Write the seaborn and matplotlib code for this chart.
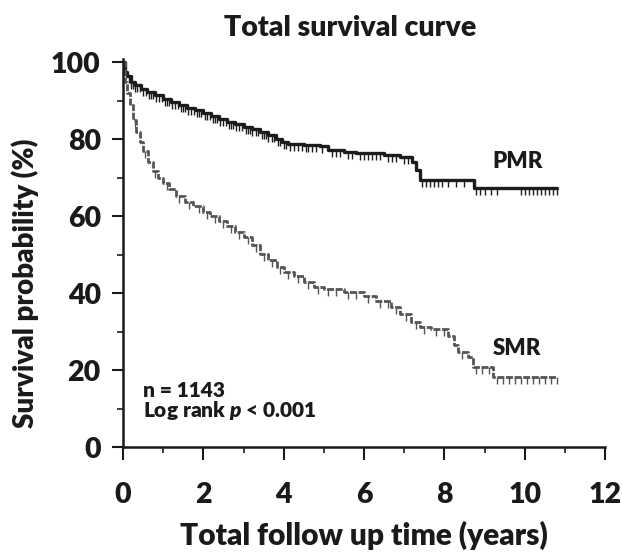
import numpy as np
import pandas as pd
import matplotlib
matplotlib.use("Agg")
import matplotlib.pyplot as plt
from matplotlib.ticker import MultipleLocator
import seaborn as sns

# ---------------- data ----------------
pmr_time = [0.0, 0.05, 0.1, 0.2, 0.3, 0.45, 0.6, 0.8, 1.0, 1.2, 1.4, 1.6, 1.8, 2.0,
            2.2, 2.4, 2.6, 2.8, 3.0, 3.2, 3.4, 3.6, 3.8, 3.95, 4.1, 4.5, 4.9, 5.1,
            5.5, 5.8, 6.5, 6.9, 7.2, 7.3, 7.4, 8.75, 10.8]
pmr_surv = [100.0, 97.5, 96.5, 95.0, 94.0, 93.0, 92.3, 91.5, 90.5, 89.6, 89.0, 88.2,
            87.6, 86.8, 86.0, 85.3, 84.6, 84.0, 83.3, 82.6, 81.8, 81.0, 80.0, 79.2,
            78.8, 78.5, 78.2, 77.3, 76.8, 76.4, 76.0, 75.5, 74.0, 72.0, 69.3, 67.3, 67.3]

smr_time = [0.0, 0.05, 0.1, 0.17, 0.25, 0.33, 0.42, 0.5, 0.62, 0.75, 0.88, 1.0, 1.15,
            1.33, 1.55, 1.75, 2.0, 2.17, 2.4, 2.58, 2.8, 3.0, 3.2, 3.42, 3.6, 3.83,
            4.0, 4.25, 4.5, 4.75, 5.0, 5.5, 6.0, 6.3, 6.67, 6.9, 7.17, 7.4, 7.67,
            8.1, 8.25, 8.35, 8.6, 8.72, 9.22, 10.8]
smr_surv = [100.0, 95.0, 92.0, 89.0, 85.0, 82.0, 79.3, 77.0, 74.0, 71.7, 70.0, 68.7,
            67.0, 65.2, 63.8, 62.6, 61.2, 60.1, 58.7, 57.5, 56.0, 54.5, 52.5, 50.1,
            48.5, 46.7, 45.5, 44.5, 43.0, 41.5, 41.0, 40.2, 39.3, 38.0, 36.4, 34.5,
            32.4, 31.2, 30.6, 28.9, 26.5, 24.7, 23.4, 20.8, 18.2, 18.2]

# censoring times (tick marks)
pmr_censor = [0.15, 0.2, 0.25, 0.3, 0.35, 0.42, 0.5, 0.58, 0.65, 0.7, 0.75, 0.82, 0.9,
              0.97, 1.05, 1.1, 1.15, 1.22, 1.3, 1.37, 1.45, 1.5, 1.55, 1.62, 1.7,
              1.77, 1.85, 1.9, 1.95, 2.05, 2.1, 2.17, 2.25, 2.3, 2.35, 2.42, 2.5,
              2.57, 2.65, 2.7, 2.75, 2.82, 2.9, 2.97, 3.05, 3.1, 3.15, 3.22, 3.3,
              3.37, 3.45, 3.5, 3.55, 3.62, 3.7, 3.77, 3.85, 3.9, 4.0, 4.07, 4.15,
              4.25, 4.35, 4.45, 4.55, 4.6, 4.7, 4.8, 4.95, 5.2, 5.3, 5.4, 5.6, 5.7,
              5.9, 6.0, 6.1, 6.2, 6.3, 6.4, 6.6, 6.7, 6.8, 7.0, 7.1, 7.45, 7.55,
              7.65, 7.75, 7.85, 7.95, 8.1, 8.3, 8.5, 8.8, 8.9, 9.0, 9.15, 9.3, 9.9,
              10.0, 10.1, 10.2, 10.3, 10.4, 10.5, 10.6, 10.7, 10.8]
smr_censor = [0.3, 0.55, 0.8, 1.1, 1.4, 1.65, 1.9, 2.1, 2.3, 2.5, 2.7, 2.9, 3.1,
              3.3, 3.5, 3.7, 3.9, 4.1, 4.35, 4.6, 4.85, 5.1, 5.3, 5.6, 5.8, 6.1,
              6.4, 6.6, 6.8, 7.05, 7.3, 7.5, 7.8, 8.0, 8.45, 8.8, 8.95, 9.1,
              9.3, 9.45, 9.6, 9.75, 9.9, 10.05, 10.2, 10.35, 10.5, 10.65, 10.8]

x_ticks = [0, 2, 4, 6, 8, 10, 12]
y_ticks = [0, 20, 40, 60, 80, 100]

# ---------------- style ----------------
sns.set_theme(style="ticks")
WEIGHT = 800
plt.rcParams["font.family"] = ["Lato", "DejaVu Sans"]
plt.rcParams["font.weight"] = WEIGHT
plt.rcParams["mathtext.fontset"] = "custom"
plt.rcParams["mathtext.it"] = "Lato:heavy:italic"
plt.rcParams["mathtext.rm"] = "Lato:heavy"

W, H = 622, 552
INK = "#1a1a1a"
fig = plt.figure(figsize=(W / 100, H / 100), dpi=100)
ax = fig.add_axes([123 / W, 1 - 447 / H, 482 / W, (447 - 58.5) / H])

df = pd.concat([
    pd.DataFrame({"time": pmr_time, "surv": pmr_surv, "group": "PMR"}),
    pd.DataFrame({"time": smr_time, "surv": smr_surv, "group": "SMR"}),
], ignore_index=True)

pmr_col = "#1c1c1c"
smr_col = "#555555"

sns.lineplot(data=df[df.group == "PMR"], x="time", y="surv", drawstyle="steps-post",
             estimator=None, sort=False, color=pmr_col, linewidth=2.4, ax=ax)
sns.lineplot(data=df[df.group == "SMR"], x="time", y="surv", drawstyle="steps-post",
             estimator=None, sort=False, color=smr_col, linewidth=2.0, ax=ax,
             linestyle=(0, (2.5, 0.6)))


def step_value(times, surv, t):
    idx = np.searchsorted(np.asarray(times), t, side="right") - 1
    return np.asarray(surv)[idx]


for cens, times, surv, col in [(pmr_censor, pmr_time, pmr_surv, pmr_col),
                               (smr_censor, smr_time, smr_surv, smr_col)]:
    ax.plot(cens, step_value(times, surv, np.asarray(cens)), linestyle="none",
            marker=3, markersize=5, markeredgewidth=1.0, color=col)

ax.set_xlim(0, 12)
ax.set_ylim(0, 101)
ax.set_xticks(x_ticks)
ax.set_yticks(y_ticks)
ax.xaxis.set_minor_locator(MultipleLocator(1))
ax.yaxis.set_minor_locator(MultipleLocator(10))
sns.despine(ax=ax)
for s in ["left", "bottom"]:
    ax.spines[s].set_linewidth(1.8)
    ax.spines[s].set_color(INK)
ax.tick_params(axis="x", which="major", length=9.5, width=1.5, pad=16,
               labelsize=20.5, colors=INK)
ax.tick_params(axis="x", which="minor", length=4.5, width=1.2, color=INK)
ax.tick_params(axis="y", which="major", length=8, width=1.5, pad=8,
               labelsize=20.5, colors=INK)
ax.tick_params(axis="y", which="minor", length=4, width=1.2, color=INK)
for lab in ax.get_xticklabels() + ax.get_yticklabels():
    lab.set_fontweight(WEIGHT)

ax.set_xlabel("Total follow up time (years)", fontsize=21.5, fontweight=WEIGHT,
              color=INK)
ax.xaxis.set_label_coords(0.5, (447 - 545) / (447 - 58.5))
ax.xaxis.label.set_va("baseline")
ax.set_ylabel("Survival probability (%)", fontsize=20, fontweight=WEIGHT, color=INK)
ax.yaxis.set_label_coords((25 - 123) / 482, (447 - 283) / (447 - 58.5))
ax.yaxis.label.set_va("center")

fig.text(350 / W, 1 - 36 / H, "Total survival curve", ha="center", va="baseline",
         fontsize=20.5, fontweight=WEIGHT, color=INK)

ax.text(9.2, 72.5, "PMR", fontsize=16, fontweight=WEIGHT, color=INK, va="baseline")
ax.text(9.2, 23.9, "SMR", fontsize=16, fontweight=WEIGHT, color=INK, va="baseline")
ax.text(0.5, 13.0, "n = 1143", fontsize=15, fontweight=WEIGHT, color=INK,
        va="baseline")
ax.text(0.5, 7.9, "Log rank $p$ < 0.001", fontsize=15, fontweight=WEIGHT,
        color=INK, va="baseline")

fig.savefig("out.png", dpi=100)
